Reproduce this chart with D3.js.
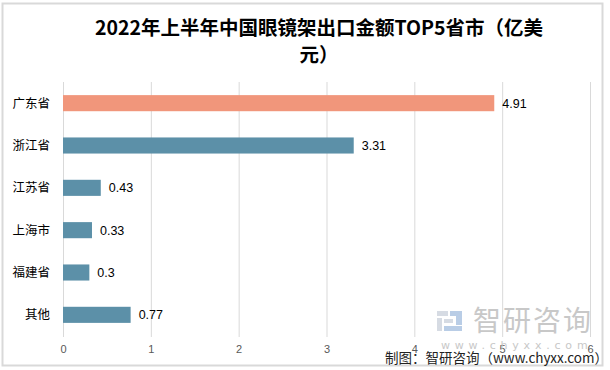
<!DOCTYPE html>
<html><head><meta charset="utf-8">
<script src="https://cdn.jsdelivr.net/npm/d3@7"></script>
<style>body{margin:0;background:#fff}svg{display:block}</style>
</head><body>
<svg id="c" width="610" height="370"></svg>
<script>
const categories = ["广东省","浙江省","江苏省","上海市","福建省","其他"];
const values = [4.91, 3.31, 0.43, 0.33, 0.3, 0.77];
const highlight = ["广东省"];
const tickValues = [0,1,2,3,4,5,6];
const titleLines = ["2022年上半年中国眼镜架出口金额TOP5省市（亿美","元）"];

const svg = d3.select("#c");
const cjk = "'Noto Sans CJK SC','Microsoft YaHei',sans-serif";

// border
svg.append("rect").attr("x",2.5).attr("y",3.5).attr("width",600).attr("height",362)
  .attr("fill","#fff").attr("stroke","#d9d9d9").attr("stroke-width",2);

const x = d3.scaleLinear().domain([0,6]).range([63,590]);
const y = d3.scaleBand().domain(categories).range([82,336]).paddingInner(0.62).paddingOuter(0.31);

// gridlines
svg.append("g").selectAll("line").data(tickValues).join("line")
  .attr("x1",d=>x(d)+0.5).attr("x2",d=>x(d)+0.5).attr("y1",82).attr("y2",337)
  .attr("stroke","#d9d9d9").attr("stroke-width",1);

// axis
const ax = svg.append("g").attr("transform","translate(0,337)")
  .call(d3.axisBottom(x).tickValues(tickValues).tickSize(0).tickPadding(8).tickFormat(d3.format("d")));
ax.select(".domain").remove();
ax.selectAll("text").attr("fill","#595959").style("font-family","'Liberation Sans',Arial,sans-serif").style("font-size","11px");

// bars
svg.append("g").selectAll("rect").data(categories).join("rect")
  .attr("x",x(0)).attr("y",d=>y(d)).attr("height",y.bandwidth())
  .attr("width",(d,i)=>x(values[i])-x(0))
  .attr("fill",d=>highlight.includes(d)?"#f1967b":"#5c90a8");

// value labels
svg.append("g").selectAll("text").data(categories).join("text")
  .attr("x",(d,i)=>x(values[i])+8).attr("y",d=>y(d)+y.bandwidth()/2).attr("dy","0.35em")
  .attr("fill","#000").style("font-family","'Liberation Sans',Arial,sans-serif").style("font-size","12.5px")
  .text((d,i)=>values[i]);

// category labels
svg.append("g").selectAll("text").data(categories).join("text")
  .attr("x",50).attr("y",d=>y(d)+y.bandwidth()/2).attr("dy","0.35em").attr("text-anchor","end")
  .attr("fill","#000").style("font-family",cjk).style("font-size","12.5px")
  .text(d=>d);

// title
svg.append("g").selectAll("text").data(titleLines).join("text")
  .attr("x",319).attr("y",(d,i)=>35+i*27).attr("text-anchor","middle")
  .attr("fill","#000").style("font-family",cjk).style("font-weight","bold").style("font-size","19.5px")
  .text(d=>d);

// watermark
const wm = svg.append("g");
wm.append("rect").attr("x",437).attr("y",311).attr("width",11).attr("height",5).attr("fill","#d6dbe3");
wm.append("rect").attr("x",437).attr("y",318).attr("width",5).attr("height",13).attr("fill","#d6dbe3");
wm.append("rect").attr("x",450).attr("y",311).attr("width",12).attr("height",5).attr("fill","#b9cde6");
wm.append("rect").attr("x",456).attr("y",316).attr("width",6).attr("height",9).attr("fill","#b9cde6");
wm.append("rect").attr("x",444).attr("y",326).attr("width",18).attr("height",5).attr("fill","#b9cde6");
wm.append("rect").attr("x",444).attr("y",319).attr("width",9).attr("height",4).attr("fill","#d6dbe3");
wm.append("text").attr("x",473).attr("y",331).attr("fill","#c8c8c8")
  .style("font-family",cjk).style("font-size","28px").style("letter-spacing","2px").text("智研咨询");
wm.append("text").attr("x",441).attr("y",349).attr("fill","#c8c8c8")
  .style("font-family","'DejaVu Sans',sans-serif").style("font-size","11px").style("letter-spacing","4.8px").text("www.chyxx.com");

svg.append("text").attr("x",385).attr("y",363).attr("fill","#222")
  .style("font-family",cjk).style("font-size","13.5px").text("制图：智研咨询（www.chyxx.com）");
</script>
</body></html>
